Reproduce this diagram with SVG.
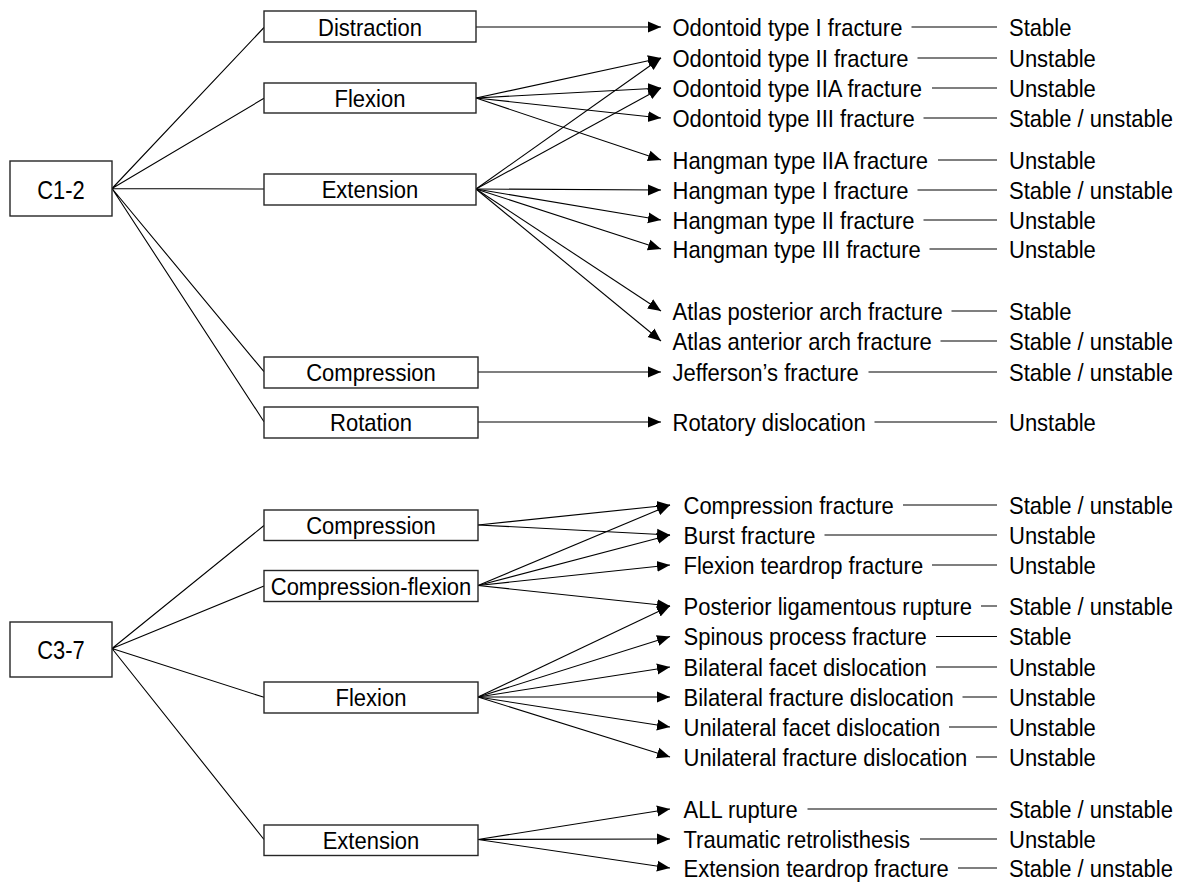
<svg xmlns="http://www.w3.org/2000/svg" width="1185" height="886" viewBox="0 0 1185 886">
<defs>
<style>
text{font-family:"Liberation Sans",Arial,sans-serif;font-size:24px;fill:#000}
.c{text-anchor:middle}
.big{font-size:25.5px}
.box{fill:#fff;stroke:#262626;stroke-width:1.4}
.ln{stroke:#000;stroke-width:1.1;fill:none}
.ar{stroke:#000;stroke-width:1.1;fill:none;marker-end:url(#ah)}
.ds{stroke:#000;stroke-width:1.1}
</style>
<marker id="ah" markerWidth="14" markerHeight="12" refX="13" refY="6" orient="auto" markerUnits="userSpaceOnUse">
<path d="M0,0.5 L13,6 L0,11.5 z" fill="#000"/>
</marker>
</defs>
<rect width="1185" height="886" fill="#fff"/>

<g id="connectors">
<path class="ln" d="M112,188.5 L264,27.5 M112,188.5 L264,98.3 M112,188.5 L264,189 M112,188.5 L264,371.7 M112,188.5 L264,421.7"/>
<path class="ar" d="M476,27 L661,27"/>
<path class="ar" d="M476,98 L661,58"/>
<path class="ar" d="M476,98 L661,88"/>
<path class="ar" d="M476,98 L661,118"/>
<path class="ar" d="M476,98 L661,160"/>
<path class="ar" d="M476,189 L661,58"/>
<path class="ar" d="M476,189 L661,88"/>
<path class="ar" d="M476,189 L661,190"/>
<path class="ar" d="M476,189 L661,220"/>
<path class="ar" d="M476,189 L661,249"/>
<path class="ar" d="M476,189 L661,311"/>
<path class="ar" d="M476,189 L661,341"/>
<path class="ar" d="M478,372 L661,372"/>
<path class="ar" d="M478,422 L661,422"/>

<path class="ln" d="M112,648.5 L264,525.5 M112,648.5 L264,586 M112,648.5 L264,697.3 M112,648.5 L264,839.5"/>
<path class="ar" d="M478,525 L670,505"/>
<path class="ar" d="M478,525 L670,535"/>
<path class="ar" d="M478,585.5 L670,505"/>
<path class="ar" d="M478,585.5 L670,535"/>
<path class="ar" d="M478,585.5 L670,565"/>
<path class="ar" d="M478,585.5 L670,606"/>
<path class="ar" d="M478,697 L670,606"/>
<path class="ar" d="M478,697 L670,636.5"/>
<path class="ar" d="M478,697 L670,667"/>
<path class="ar" d="M478,697 L670,697"/>
<path class="ar" d="M478,697 L670,727"/>
<path class="ar" d="M478,697 L670,757"/>
<path class="ar" d="M478,839.5 L670,809"/>
<path class="ar" d="M478,839.5 L670,839"/>
<path class="ar" d="M478,839.5 L670,868"/>

<path class="ds" d="M911.5,27 H997 M917.5,58 H997 M932,88 H997 M923.5,118 H997 M938,160 H997 M917.5,190 H997 M923.5,220 H997 M929.5,249 H997 M951.5,311 H997 M940.5,341 H997 M868.5,372 H997 M874.5,422 H997"/>
<path class="ds" d="M903,505 H997 M824.5,535 H997 M932,565 H997 M981,606 H997 M936,636.5 H997 M936,667 H997 M962.5,697 H997 M949,727 H997 M976,757 H997 M807.5,809 H997 M920,839 H997 M958,868 H997"/>
</g>

<g id="n-c12"><rect class="box" x="10" y="161" width="102" height="55"/><text class="c big" transform="translate(61,198.5) scale(0.86,1)">C1-2</text></g>
<g id="n-distraction"><rect class="box" x="264" y="11" width="212" height="31"/><text class="c" transform="translate(370,35.5) scale(0.917,1)">Distraction</text></g>
<g id="n-flexion1"><rect class="box" x="264" y="83" width="212" height="30"/><text class="c" transform="translate(370,106.5) scale(0.917,1)">Flexion</text></g>
<g id="n-extension1"><rect class="box" x="264" y="174" width="212" height="31"/><text class="c" transform="translate(370,198) scale(0.917,1)">Extension</text></g>
<g id="n-compression1"><rect class="box" x="264" y="357" width="214" height="31"/><text class="c" transform="translate(371,381) scale(0.917,1)">Compression</text></g>
<g id="n-rotation"><rect class="box" x="264" y="407" width="214" height="31"/><text class="c" transform="translate(371,431) scale(0.917,1)">Rotation</text></g>

<g id="n-c37"><rect class="box" x="10" y="622" width="102" height="55"/><text class="c big" transform="translate(61,659) scale(0.86,1)">C3-7</text></g>
<g id="n-compression2"><rect class="box" x="264" y="510" width="214" height="30.5"/><text class="c" transform="translate(371,534) scale(0.917,1)">Compression</text></g>
<g id="n-compflex"><rect class="box" x="264" y="570.5" width="214" height="31"/><text class="c" transform="translate(371,594.5) scale(0.917,1)">Compression-flexion</text></g>
<g id="n-flexion2"><rect class="box" x="264" y="682" width="214" height="31"/><text class="c" transform="translate(371,706) scale(0.917,1)">Flexion</text></g>
<g id="n-extension2"><rect class="box" x="264" y="825" width="214" height="30.5"/><text class="c" transform="translate(371,848.5) scale(0.917,1)">Extension</text></g>

<g id="outcomes-c12">
<text transform="translate(672.5,35.5) scale(0.917,1)">Odontoid type I fracture</text>
<text transform="translate(672.5,66.5) scale(0.917,1)">Odontoid type II fracture</text>
<text transform="translate(672.5,96.5) scale(0.917,1)">Odontoid type IIA fracture</text>
<text transform="translate(672.5,126.5) scale(0.917,1)">Odontoid type III fracture</text>
<text transform="translate(672.5,168.5) scale(0.917,1)">Hangman type IIA fracture</text>
<text transform="translate(672.5,198.5) scale(0.917,1)">Hangman type I fracture</text>
<text transform="translate(672.5,228.5) scale(0.917,1)">Hangman type II fracture</text>
<text transform="translate(672.5,257.5) scale(0.917,1)">Hangman type III fracture</text>
<text transform="translate(672.5,319.5) scale(0.917,1)">Atlas posterior arch fracture</text>
<text transform="translate(672.5,349.5) scale(0.917,1)">Atlas anterior arch fracture</text>
<text transform="translate(672.5,380.5) scale(0.917,1)">Jefferson’s fracture</text>
<text transform="translate(672.5,430.5) scale(0.917,1)">Rotatory dislocation</text>
</g>
<g id="stability-c12">
<text transform="translate(1009,35.5) scale(0.917,1)">Stable</text>
<text transform="translate(1009,66.5) scale(0.917,1)">Unstable</text>
<text transform="translate(1009,96.5) scale(0.917,1)">Unstable</text>
<text transform="translate(1009,126.5) scale(0.917,1)">Stable / unstable</text>
<text transform="translate(1009,168.5) scale(0.917,1)">Unstable</text>
<text transform="translate(1009,198.5) scale(0.917,1)">Stable / unstable</text>
<text transform="translate(1009,228.5) scale(0.917,1)">Unstable</text>
<text transform="translate(1009,257.5) scale(0.917,1)">Unstable</text>
<text transform="translate(1009,319.5) scale(0.917,1)">Stable</text>
<text transform="translate(1009,349.5) scale(0.917,1)">Stable / unstable</text>
<text transform="translate(1009,380.5) scale(0.917,1)">Stable / unstable</text>
<text transform="translate(1009,430.5) scale(0.917,1)">Unstable</text>
</g>

<g id="outcomes-c37">
<text transform="translate(683.5,513.5) scale(0.917,1)">Compression fracture</text>
<text transform="translate(683.5,543.5) scale(0.917,1)">Burst fracture</text>
<text transform="translate(683.5,573.5) scale(0.917,1)">Flexion teardrop fracture</text>
<text transform="translate(683.5,614.5) scale(0.917,1)">Posterior ligamentous rupture</text>
<text transform="translate(683.5,645) scale(0.917,1)">Spinous process fracture</text>
<text transform="translate(683.5,675.5) scale(0.917,1)">Bilateral facet dislocation</text>
<text transform="translate(683.5,705.5) scale(0.917,1)">Bilateral fracture dislocation</text>
<text transform="translate(683.5,735.5) scale(0.917,1)">Unilateral facet dislocation</text>
<text transform="translate(683.5,765.5) scale(0.917,1)">Unilateral fracture dislocation</text>
<text transform="translate(683.5,817.5) scale(0.917,1)">ALL rupture</text>
<text transform="translate(683.5,847.5) scale(0.917,1)">Traumatic retrolisthesis</text>
<text transform="translate(683.5,876.5) scale(0.917,1)">Extension teardrop fracture</text>
</g>
<g id="stability-c37">
<text transform="translate(1009,513.5) scale(0.917,1)">Stable / unstable</text>
<text transform="translate(1009,543.5) scale(0.917,1)">Unstable</text>
<text transform="translate(1009,573.5) scale(0.917,1)">Unstable</text>
<text transform="translate(1009,614.5) scale(0.917,1)">Stable / unstable</text>
<text transform="translate(1009,645) scale(0.917,1)">Stable</text>
<text transform="translate(1009,675.5) scale(0.917,1)">Unstable</text>
<text transform="translate(1009,705.5) scale(0.917,1)">Unstable</text>
<text transform="translate(1009,735.5) scale(0.917,1)">Unstable</text>
<text transform="translate(1009,765.5) scale(0.917,1)">Unstable</text>
<text transform="translate(1009,817.5) scale(0.917,1)">Stable / unstable</text>
<text transform="translate(1009,847.5) scale(0.917,1)">Unstable</text>
<text transform="translate(1009,876.5) scale(0.917,1)">Stable / unstable</text>
</g>
</svg>
